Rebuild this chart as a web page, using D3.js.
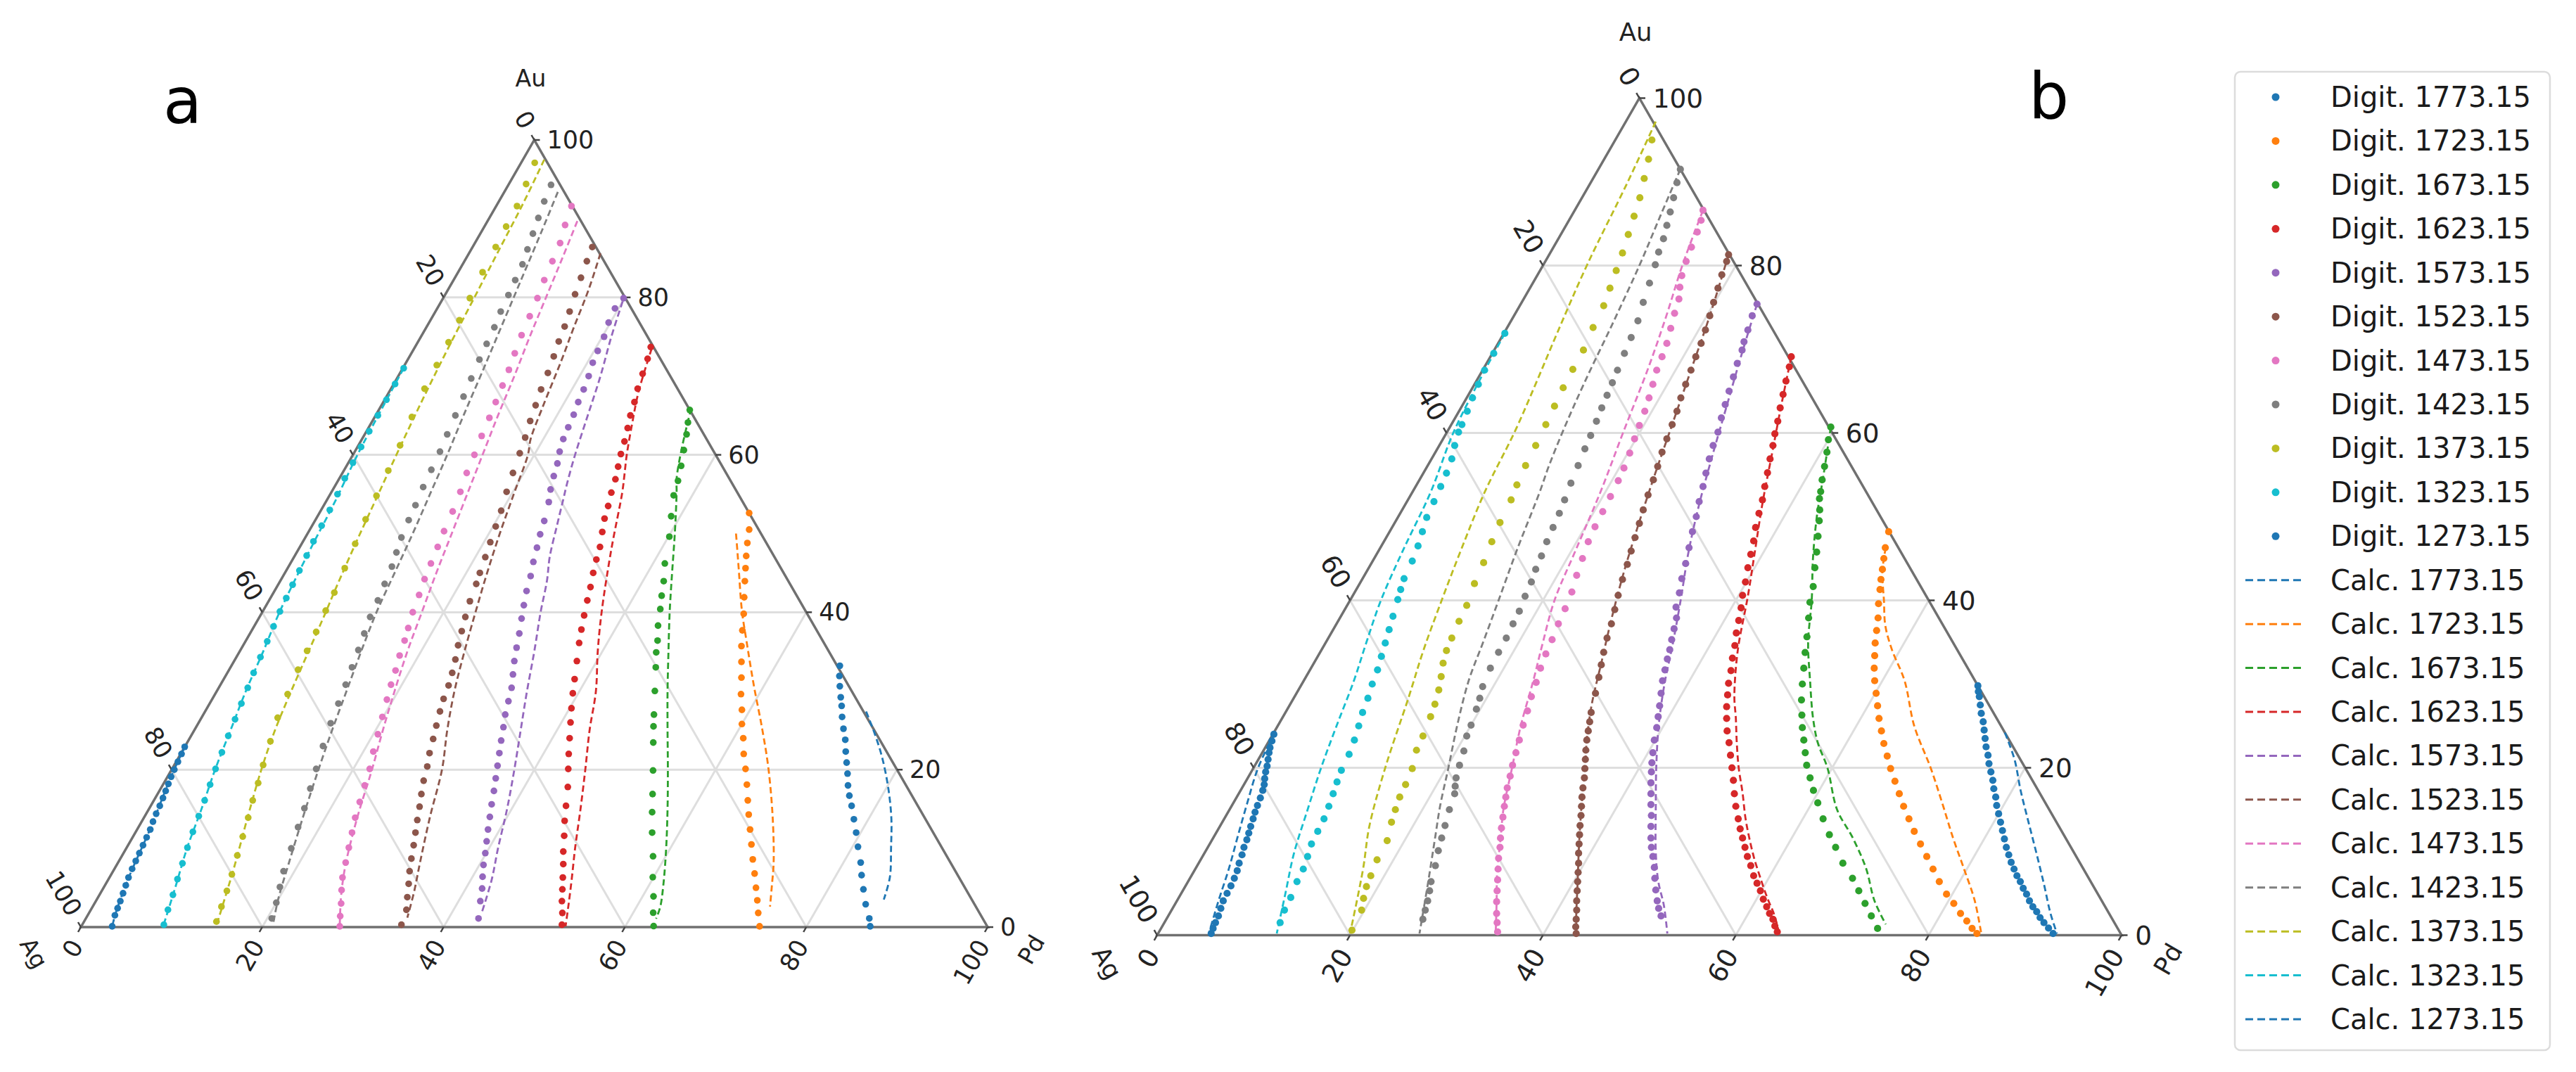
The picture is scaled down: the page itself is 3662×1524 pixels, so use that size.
<!DOCTYPE html>
<html>
<head>
<meta charset="utf-8">
<script src="https://cdn.jsdelivr.net/npm/d3@7"></script>
<style>
  body { margin: 0; background: #fff; }
  text { font-family: "DejaVu Sans", sans-serif; }
</style>
</head>
<body>
<svg id="chart" width="3662" height="1524"></svg>
<script>
// temperatures (K), legend order
const temps = ["1773.15", "1723.15", "1673.15", "1623.15", "1573.15", "1523.15",
               "1473.15", "1423.15", "1373.15", "1323.15", "1273.15"];
const colors = ["#1f77b4", "#ff7f0e", "#2ca02c", "#d62728", "#9467bd", "#8c564b",
                "#e377c2", "#7f7f7f", "#bcbd22", "#17becf", "#1f77b4"];
const ticks = [0, 20, 40, 60, 80, 100];
const gridVals = [20, 40, 60, 80];

// all points are [Pd, Au] in at.%  (Ag = 100 - Pd - Au)

// ---- panel a, digitised ----
const digitA1773 = [[67.1,33.2],[67.7,31.9],[68.4,30.6],[69.2,29.2],[69.85,28.1],[70.6,26.7],[71.5,25.2],[72.4,23.8],[73.2,22.3],[74.0,20.9],[74.8,19.5],[75.6,18.0],[76.4,16.7],[77.3,15.4],[78.4,13.7],[79.5,12.0],[80.6,10.2],[81.9,8.2],[82.8,6.6],[83.9,4.8],[85.1,2.9],[86.4,1.1],[87.0,0.1]];
const digitA1723 = [[47.4,52.6],[48.45,50.5],[49.1,48.8],[49.8,47.15],[50.5,45.6],[51.25,43.95],[52.2,41.9],[53.2,39.8],[54.1,37.7],[55.0,35.7],[56.0,33.7],[57.0,31.7],[58.0,29.6],[59.1,27.6],[60.0,25.8],[61.05,24.0],[62.1,22.0],[63.25,20.1],[64.4,18.1],[65.5,16.1],[66.5,14.3],[67.6,12.4],[68.7,10.5],[69.8,8.6],[70.9,6.8],[71.95,5.0],[72.9,3.4],[73.8,1.8],[74.8,0.1]];
const digitA1673 = [[34.3,65.7],[34.9,64.1],[35.5,62.6],[36.2,60.6],[36.9,58.6],[37.5,56.7],[37.95,54.85],[39.0,52.2],[40.1,49.6],[41.3,46.2],[42.3,43.95],[43.0,42.1],[43.7,40.4],[44.5,38.3],[45.4,36.4],[46.0,34.9],[46.9,33.0],[48.3,30.0],[49.7,27.0],[50.4,25.5],[51.4,23.45],[53.15,19.9],[54.6,16.9],[55.7,14.6],[57.0,12.0],[58.6,9.0],[59.9,6.34],[61.2,3.9],[62.2,1.83],[63.1,0.13]];
const digitA1623 = [[26.0,73.7],[26.4,72.2],[26.8,70.3],[27.2,68.4],[27.7,66.7],[28.1,65.0],[28.6,63.4],[29.1,61.7],[29.5,60.1],[30.0,58.5],[30.5,56.9],[30.9,55.2],[31.4,53.5],[31.8,51.9],[32.4,50.2],[33.1,48.3],[33.5,46.7],[34.0,45.0],[34.6,43.2],[35.1,41.5],[35.7,39.6],[36.3,37.8],[36.9,36.1],[37.8,33.8],[38.7,31.5],[39.4,29.7],[40.2,27.8],[41.0,26.0],[41.9,24.0],[42.8,22.0],[43.7,20.1],[44.8,17.8],[45.8,15.4],[46.6,13.5],[47.5,11.6],[48.4,9.6],[49.2,8.0],[50.0,6.3],[50.7,4.8],[51.4,3.3],[52.2,1.8],[52.9,0.3]];
const digitA1573 = [[19.9,79.9],[19.6,78.6],[19.8,76.8],[20.2,75.0],[20.4,73.2],[20.6,71.7],[21.0,70.0],[21.3,68.3],[21.5,66.7],[21.8,65.1],[22.0,63.5],[22.2,62.0],[22.6,60.4],[23.1,58.9],[23.5,57.3],[24.0,55.6],[24.6,54.0],[25.3,51.6],[25.7,49.9],[26.2,48.2],[26.7,46.4],[27.3,44.6],[27.8,42.7],[28.4,40.9],[29.0,39.2],[29.7,37.3],[30.3,35.5],[30.9,33.8],[31.6,32.1],[32.3,30.4],[32.8,28.7],[33.3,27.0],[33.9,25.4],[34.5,23.7],[35.1,22.1],[35.7,20.5],[36.3,18.9],[36.9,17.3],[37.5,15.6],[38.1,14.0],[38.7,12.4],[39.3,10.9],[39.9,9.4],[40.45,7.9],[41.1,6.4],[41.8,4.9],[42.4,3.3],[43.3,1.1]];
const digitA1523 = [[13.2,86.4],[13.5,84.6],[13.9,82.5],[14.3,80.4],[14.8,78.2],[15.2,76.3],[15.5,74.4],[15.9,72.5],[16.3,70.4],[16.6,68.3],[17.0,66.3],[17.4,64.3],[17.9,62.2],[18.3,60.2],[18.8,57.7],[19.3,55.3],[19.9,52.9],[20.3,50.9],[20.7,48.9],[21.1,47.0],[21.5,45.0],[21.8,43.6],[22.2,41.4],[22.7,39.4],[23.2,37.6],[23.7,35.8],[24.3,34.0],[24.8,32.3],[25.2,30.7],[25.5,29.0],[25.9,27.4],[26.4,25.6],[26.9,23.9],[27.4,22.1],[28.0,20.4],[28.5,18.6],[29.1,16.9],[29.7,15.3],[30.3,13.6],[30.9,12.0],[31.5,10.4],[32.1,8.7],[32.7,7.1],[33.4,5.5],[34.1,3.8],[34.8,2.2],[35.2,0.3]];
const digitA1473 = [[8.3,91.6],[8.8,89.2],[9.4,86.9],[9.7,84.6],[10.0,82.2],[10.4,79.9],[10.7,77.6],[11.0,75.2],[11.4,72.9],[11.8,70.8],[12.1,68.8],[12.4,66.7],[12.7,64.7],[13.0,62.4],[13.4,60.0],[13.7,57.7],[14.2,55.3],[14.6,52.8],[14.9,50.3],[15.2,48.3],[15.5,46.2],[15.8,44.2],[16.2,42.2],[16.6,40.0],[17.1,38.0],[17.5,36.4],[17.9,34.5],[18.4,32.6],[18.8,30.8],[19.3,28.9],[19.9,26.7],[20.5,24.5],[21.1,22.3],[21.8,20.1],[22.3,18.0],[22.8,15.9],[23.3,13.9],[23.9,12.0],[24.5,10.1],[25.1,8.2],[25.7,6.3],[26.4,4.7],[27.2,3.0],[27.9,1.4],[28.5,0.1]];
const digitA1423 = [[4.7,94.3],[5.0,92.2],[5.4,90.1],[5.8,88.1],[6.2,86.1],[6.6,84.2],[6.8,82.2],[7.0,80.3],[7.2,78.2],[7.5,76.2],[7.7,74.1],[7.9,72.1],[8.2,69.7],[8.5,67.4],[8.8,65.0],[9.1,62.6],[9.4,60.4],[9.6,58.1],[9.8,55.9],[10.1,53.6],[10.3,51.7],[10.6,49.5],[11.0,47.6],[11.4,45.8],[11.7,43.6],[12.0,41.5],[12.2,39.4],[12.6,37.3],[13.0,35.2],[13.4,33.0],[13.8,30.8],[14.2,28.4],[14.6,25.9],[15.2,23.0],[15.9,20.1],[16.5,17.6],[17.1,15.1],[17.6,12.7],[18.2,10.0],[18.8,7.1],[19.4,5.1],[20.0,3.1],[20.5,1.1]];
const digitA1373 = [[1.5,97.1],[1.9,94.4],[2.3,91.6],[2.4,89.0],[2.55,86.4],[2.7,83.2],[2.95,79.9],[3.2,77.1],[3.4,74.3],[3.55,71.4],[3.7,68.4],[4.1,64.8],[4.6,61.2],[4.9,58.0],[5.2,54.8],[5.5,51.8],[5.9,48.7],[6.3,45.6],[6.7,42.5],[6.9,40.2],[7.2,37.5],[7.4,35.1],[7.6,32.7],[8.0,29.6],[8.4,26.6],[9.1,23.6],[9.8,20.6],[10.4,18.3],[10.9,16.1],[11.5,13.9],[12.1,11.5],[12.7,9.1],[13.3,6.7],[13.8,4.6],[14.2,2.6],[14.6,0.7]];
const digitA1323 = [[0.1,71.0],[0.15,69.0],[0.2,67.0],[0.25,65.0],[0.3,63.0],[0.4,61.0],[0.5,59.0],[0.6,57.0],[0.8,55.0],[0.95,53.0],[1.05,51.0],[1.15,49.0],[1.3,47.2],[1.45,45.3],[1.6,43.5],[1.75,41.8],[1.9,40.1],[2.15,38.2],[2.4,36.3],[2.65,34.3],[2.9,32.3],[3.2,30.4],[3.5,28.4],[3.8,26.4],[4.1,24.3],[4.45,22.2],[4.8,20.1],[5.2,18.1],[5.6,16.1],[5.95,14.1],[6.3,12.1],[6.7,10.1],[7.15,8.1],[7.6,6.1],[8.1,4.1],[8.5,2.2],[9.0,0.3]];
const digitA1273 = [[0.0,22.9],[0.1,22.0],[0.2,21.0],[0.3,20.0],[0.4,19.1],[0.55,18.2],[0.7,17.3],[0.85,16.4],[1.0,15.4],[1.1,14.4],[1.25,13.4],[1.45,12.4],[1.55,11.4],[1.65,10.4],[1.75,9.4],[1.85,8.4],[1.95,7.4],[2.1,6.3],[2.3,5.3],[2.5,4.3],[2.7,3.3],[2.85,2.4],[3.0,1.5],[3.4,0.1]];

// ---- panel a, calculated ----
const calcA1773 = [[72.9,27.4],[75.4,24.4],[77.7,21.4],[80.25,17.6],[82.45,13.86],[84.3,10.1],[86.05,6.34],[86.8,3.5]];
const calcA1723 = [[47.25,50.0],[48.5,47.8],[49.8,45.5],[52.8,40.2],[55.2,36.4],[58.8,30.8],[62.6,25.1],[65.8,20.07],[69.4,13.8],[72.3,8.2],[73.6,5.2],[74.7,2.6]];
const calcA1673 = [[34.35,65.9],[35.8,61.0],[37.2,57.0],[38.1,55.2],[40.5,50],[42.7,45],[44.9,40.07],[47.3,35],[49.7,30],[52.2,25],[54.7,20.07],[57.2,15],[59.5,10.1],[61.5,5.5],[62.6,2.6],[62.9,1.07]];
const calcA1623 = [[26.2,73.5],[27.5,68],[28.8,64],[30.2,60],[31.2,57.5],[32.1,55.2],[34.5,48],[37.4,40.07],[39.5,35],[41.8,30],[43.6,25],[45.6,20.07],[47.6,15],[49.5,10],[51.0,6.3],[52.3,3],[53.4,0.1]];
const calcA1573 = [[20.0,79.5],[21.0,75],[22.3,70],[23.4,65],[24.5,60],[25.4,56.5],[26.1,54.1],[27.0,51],[28.2,47],[29.4,44],[30.7,40],[32.5,35],[34.2,30],[36.0,25],[37.8,20],[39.5,15],[41.0,10],[42.3,6],[43.3,1.8]];
const calcA1523 = [[14.5,85.6],[15.5,81],[16.3,76],[17.0,72],[17.9,66],[18.6,62],[19.3,60],[20.2,55.2],[21.2,50],[22.3,45],[23.5,40.07],[24.8,35],[26.2,30],[27.9,25],[29.8,20.07],[31.5,14],[33.3,8.2],[34.5,4.5],[35.4,1.2]];
const calcA1473 = [[9.9,89.7],[10.6,85],[11.3,80],[12.0,75],[12.8,70],[13.5,65],[14.3,60],[15.1,55],[15.9,50],[16.7,45],[17.6,40],[18.5,35],[19.6,30],[20.8,25],[22.1,20],[23.5,14],[25.2,8],[26.7,4],[28.4,0.3]];
const calcA1423 = [[5.9,93.4],[6.6,88.5],[7.4,82.5],[8.2,76.5],[9.0,70.5],[9.7,65],[10.4,60],[11.0,55],[11.6,50],[12.1,45],[12.6,40],[13.4,35],[14.3,30],[15.2,25],[16.2,20],[17.5,14],[18.9,8],[20.0,3.5],[21.0,0.4]];
const calcA1373 = [[2.35,97.5],[2.8,92],[3.1,86],[3.4,80],[3.7,74],[4.1,68],[4.7,61],[5.3,55],[5.9,49],[6.6,43],[7.0,40],[7.6,35],[8.2,30],[8.9,25],[9.9,20],[11.4,14],[13.0,8],[14.2,3],[14.8,0.4]];
const calcA1323 = [[0.1,71],[0.5,60],[1.0,54],[1.3,48],[1.9,40],[2.6,35],[3.2,30],[4.0,25],[4.8,20],[5.8,15],[6.7,10],[7.9,5],[9.0,0.2]];
const calcA1273 = [[0.0,23],[0.4,19],[1.4,12.5],[2.1,6.5],[2.9,2],[3.4,0.1]];

// ---- panel b, digitised ----
const digitB1773 = [[70.2,29.8],[70.6,29.1],[71.0,28.5],[71.6,27.5],[72.2,26.5],[72.9,25.5],[73.5,24.5],[74.1,23.5],[74.7,22.5],[75.4,21.5],[76.0,20.5],[76.7,19.5],[77.4,18.5],[78.0,17.5],[78.7,16.5],[79.3,15.5],[80.0,14.5],[80.7,13.5],[81.4,12.5],[82.1,11.5],[82.8,10.5],[83.5,9.6],[84.2,8.7],[84.9,7.9],[85.6,7.1],[86.3,6.4],[87.0,5.6],[87.7,4.9],[88.4,4.1],[89.1,3.4],[89.8,2.8],[90.5,2.1],[91.2,1.5],[92.0,0.85],[92.8,0.2]];
const digitB1723 = [[51.75,48.2],[52.35,46.3],[52.85,45.0],[53.35,43.7],[53.8,42.5],[54.3,41.3],[55.0,39.6],[55.8,37.9],[56.4,36.4],[57.0,34.9],[57.7,33.4],[58.4,31.9],[59.2,30.4],[60.1,28.9],[61.0,27.4],[61.9,25.9],[62.9,24.4],[63.9,22.9],[65.0,21.4],[66.1,19.9],[67.3,18.4],[68.5,16.9],[69.7,15.4],[71.0,13.9],[72.3,12.4],[73.7,10.9],[75.1,9.4],[76.5,7.9],[77.9,6.4],[79.4,4.9],[80.7,3.8],[82.0,2.6],[83.1,1.7],[84.1,0.8],[84.9,0.2]];
const digitB1673 = [[39.5,60.7],[40.0,59.2],[40.6,57.7],[41.2,56.0],[41.75,54.4],[42.3,53.0],[42.6,52.15],[43.3,50.8],[43.9,49.5],[44.7,47.65],[45.5,45.77],[46.25,43.9],[47.2,41.65],[47.8,39.77],[48.6,37.9],[49.55,35.65],[50.3,33.77],[51.1,31.9],[51.9,30.0],[52.76,28.1],[53.7,26.3],[54.5,24.8],[55.4,23.3],[56.3,21.8],[57.2,20.3],[58.3,18.8],[59.4,17.3],[60.6,15.8],[62.1,13.9],[63.7,12.0],[65.1,10.5],[66.8,8.6],[68.7,6.8],[70.1,5.3],[71.5,3.8],[72.9,2.3],[74.3,0.8]];
const digitB1623 = [[31.2,69.1],[31.6,67.9],[32.1,66.2],[32.6,64.6],[33.1,63.0],[33.65,61.4],[34.1,59.9],[34.6,58.5],[35.1,56.9],[35.66,55.25],[36.2,53.6],[36.76,52.0],[37.2,50.4],[37.7,48.7],[38.3,47.1],[38.8,45.5],[39.3,43.9],[39.9,42.2],[40.4,40.6],[41.0,39.1],[41.5,37.6],[42.0,36.1],[42.6,34.6],[43.1,33.1],[43.7,31.6],[44.2,30.1],[44.8,28.7],[45.4,27.3],[46.1,25.9],[46.9,24.4],[47.8,23.0],[48.7,21.5],[49.6,20.0],[50.5,18.5],[51.4,16.9],[52.3,15.4],[53.3,13.9],[54.1,12.7],[54.9,11.6],[55.7,10.5],[56.5,9.4],[57.4,8.3],[58.3,7.1],[59.1,6.2],[59.9,5.3],[60.7,4.3],[61.5,3.4],[62.2,2.6],[62.9,1.9],[63.5,1.1],[64.1,0.4]];
const digitB1573 = [[24.5,75.4],[24.7,74.0],[25.1,72.3],[25.4,70.9],[25.7,69.9],[26.0,68.3],[26.4,66.7],[26.8,65.0],[27.2,63.4],[27.6,61.8],[28.1,60.1],[28.4,58.5],[28.8,56.9],[29.3,55.2],[29.8,53.6],[30.3,51.8],[30.9,50.0],[31.4,48.2],[32.0,46.3],[32.6,44.4],[33.1,42.6],[33.7,40.9],[34.2,39.2],[34.9,37.9],[35.3,36.6],[35.7,35.3],[36.1,34.1],[36.4,33.0],[36.8,31.7],[37.2,30.4],[37.8,28.9],[38.4,27.4],[38.9,26.1],[39.4,24.8],[39.9,23.3],[40.5,21.8],[41.0,20.6],[41.5,19.5],[42.1,18.2],[42.75,16.9],[43.4,15.6],[44.1,14.3],[44.7,13.0],[45.4,11.6],[46.0,10.5],[46.7,9.4],[47.5,8.1],[48.2,6.8],[49.0,5.4],[49.8,4.1],[50.4,3.2],[51.1,2.3]];
const digitB1523 = [[18.6,81.3],[18.8,80.5],[19.1,78.9],[19.5,77.3],[19.9,75.6],[20.3,74.0],[20.7,72.3],[21.05,70.7],[21.3,69.1],[21.6,67.5],[21.9,65.8],[22.2,64.2],[22.6,62.6],[22.9,61.0],[23.2,59.3],[23.5,57.7],[23.9,56.0],[24.25,54.4],[24.6,52.6],[25.0,50.8],[25.4,49.2],[25.8,47.5],[26.2,45.9],[26.6,44.3],[27.0,42.5],[27.5,40.6],[28.0,38.9],[28.5,37.2],[28.9,35.5],[29.4,33.8],[29.9,32.3],[30.4,30.8],[31.0,28.9],[31.7,26.6],[32.1,25.5],[32.5,24.4],[32.9,23.3],[33.4,22.1],[33.9,21.0],[34.4,19.9],[34.9,18.8],[35.35,17.6],[35.8,16.5],[36.3,15.4],[36.8,14.3],[37.3,13.1],[37.8,12.0],[38.3,10.9],[38.8,9.8],[39.4,8.6],[39.9,7.5],[40.4,6.4],[40.9,5.3],[41.45,4.1],[42.0,3.0],[42.5,1.9],[42.9,1.0],[43.35,0.2]];
const digitB1473 = [[13.3,86.6],[13.7,85.4],[14.0,84.0],[14.3,82.2],[14.6,80.5],[15.0,78.8],[15.5,77.4],[16.1,76.0],[16.5,74.3],[17.0,72.5],[17.5,70.7],[17.8,69.1],[18.05,67.5],[18.5,65.8],[18.9,64.2],[19.26,62.6],[19.55,60.9],[19.85,59.3],[20.2,57.6],[20.5,55.8],[20.66,54.3],[20.8,52.4],[20.9,50.6],[21.0,48.8],[21.2,47.0],[21.6,45.0],[22.0,43.0],[22.5,41.0],[22.8,39.0],[23.0,37.2],[23.3,35.3],[23.5,33.6],[23.8,31.9],[24.2,30.2],[24.55,28.5],[25.0,26.8],[25.4,25.1],[25.9,23.3],[26.3,21.8],[26.7,20.3],[27.1,19.0],[27.5,17.6],[27.9,16.5],[28.3,15.4],[28.8,14.1],[29.3,12.8],[29.8,11.6],[30.3,10.5],[30.8,9.2],[31.4,7.9],[32.0,6.6],[32.6,5.3],[33.2,4.0],[33.9,2.6],[34.5,1.5],[35.1,0.4]];
const digitB1423 = [[8.5,91.5],[8.95,89.9],[9.5,88.1],[10.0,86.4],[10.45,84.8],[10.9,83.2],[11.2,81.6],[11.6,80.1],[12.1,77.9],[12.6,75.6],[13.15,73.4],[13.45,71.4],[13.7,69.5],[13.98,67.5],[14.2,66.0],[14.4,64.5],[14.6,63.0],[14.85,61.4],[15.1,59.7],[15.3,58.1],[15.6,56.1],[15.9,54.0],[16.25,52.0],[16.5,50.4],[16.7,48.7],[16.9,47.0],[17.2,45.3],[17.4,43.7],[17.7,42.2],[17.9,40.5],[18.2,38.7],[18.3,37.2],[18.45,35.5],[18.5,33.8],[18.6,31.9],[18.9,29.7],[19.3,28.3],[19.6,27.0],[20.0,25.1],[20.2,23.8],[20.8,22.0],[21.2,20.3],[21.6,18.8],[22.0,17.8],[22.4,16.9],[22.8,15.0],[23.3,13.1],[23.7,11.6],[24.1,10.1],[24.7,8.3],[25.2,6.4],[25.6,5.3],[26.0,4.1],[26.3,3.0],[26.6,1.9]];
const digitB1373 = [[3.8,95.0],[4.6,92.7],[5.3,90.4],[6.0,88.1],[6.5,85.9],[7.0,83.7],[7.5,81.5],[7.9,79.4],[8.3,77.3],[8.7,75.2],[8.9,72.6],[9.25,69.9],[9.3,67.6],[9.4,65.4],[9.6,63.2],[9.8,61.0],[10.0,58.5],[10.15,56.1],[10.4,53.8],[10.7,52.0],[10.9,49.3],[11.2,47.0],[11.6,44.5],[11.9,42.0],[12.4,39.4],[12.55,37.5],[12.8,35.5],[13.0,34.0],[13.4,32.5],[14.0,30.9],[14.55,29.3],[15.0,27.6],[15.3,26.1],[15.66,23.8],[15.84,22.1],[16.5,19.9],[16.76,18.0],[16.9,16.5],[17.2,15.0],[17.55,13.5],[18.2,11.3],[18.3,9.0],[18.6,7.1],[18.8,5.8],[19.2,4.4],[19.7,3.0],[19.9,0.6]];
const digitB1323 = [[0.1,71.9],[0.15,69.5],[0.2,67.5],[0.4,65.8],[0.6,64.2],[0.85,62.6],[1.1,61.0],[1.2,60.1],[1.6,58.5],[2.1,56.9],[2.4,55.2],[2.6,53.6],[2.8,51.8],[3.0,49.9],[3.4,48.2],[3.8,46.5],[4.1,44.7],[4.3,42.6],[4.6,41.3],[4.9,40.1],[5.4,38.1],[5.8,36.5],[6.2,34.9],[6.6,33.3],[7.0,31.7],[7.3,30.0],[7.7,28.3],[8.0,26.6],[8.4,25.0],[8.8,23.3],[9.1,21.6],[9.25,19.7],[9.5,18.3],[9.8,16.9],[10.1,15.4],[10.35,13.9],[10.45,12.4],[10.55,10.9],[10.9,9.4],[11.2,7.9],[11.3,6.4],[11.6,4.5],[11.7,3.0],[12.0,1.5]];
const digitB1273 = [[0.1,24.0],[0.3,23.2],[0.5,22.4],[0.7,21.8],[1.0,21.0],[1.3,20.2],[1.5,19.5],[1.8,18.7],[2.1,18.0],[2.3,17.3],[2.5,16.4],[2.65,15.5],[2.8,14.7],[3.0,13.9],[3.2,13.0],[3.4,12.2],[3.6,11.4],[3.75,10.5],[4.0,9.6],[4.2,8.6],[4.45,7.7],[4.6,6.8],[4.7,5.9],[4.75,5.0],[4.8,4.1],[5.0,3.2],[5.2,2.3],[5.3,1.5],[5.4,0.8],[5.5,0.2]];

// ---- panel b, calculated ----
const calcB1773 = [[75.8,24.2],[78.4,21.0],[80.9,17.27],[83.6,13.5],[86.3,9.76],[88.97,6.0],[91.3,2.64],[93.2,0.2]];
const calcB1723 = [[52.4,46.3],[53.45,43.5],[55.36,40.0],[57.0,37.0],[59.1,34.15],[62.3,30.4],[66.0,25.0],[70.2,20.0],[73.5,15.8],[76.7,11.64],[79.8,7.8],[82.7,4.14],[85.35,0.2]];
const calcB1673 = [[39.5,60.7],[41.6,55],[43.4,50],[45.5,45],[47.87,40],[50.0,35],[52.5,30.4],[55.0,26],[57.0,23],[59.5,20],[63.0,15],[66.3,11.64],[69.5,8],[72.3,4.14],[74.9,1.3]];
const calcB1623 = [[31.2,69.1],[33.0,63.5],[35.0,57.5],[37.0,51.5],[39.0,46],[41.0,40.5],[43.2,34],[45.6,28.5],[47.0,26],[48.6,23],[50.3,20],[52.2,17],[54.0,14],[55.6,11.6],[57.3,9.2],[59.0,7.0],[61.0,4.5],[62.8,2.4],[64.4,0.2]];
const calcB1573 = [[24.5,75.4],[26.0,69],[27.5,63],[29.0,57],[30.6,51],[32.3,45.5],[34.1,40.5],[36.0,35],[37.6,30],[39.5,25],[41.75,20],[44.2,15],[46.7,10],[48.7,6.5],[50.8,3.5],[52.8,0.2]];
const calcB1523 = [[18.6,81.3],[20.3,74],[21.6,67.5],[22.9,61],[24.2,54.5],[25.5,48.5],[26.8,43],[28.3,37.5],[29.8,32.5],[31.3,27.5],[32.9,23.3],[34.4,19.9],[36.3,15.4],[38.3,10.9],[40.4,6.4],[42.5,1.9],[43.4,0.2]];
const calcB1473 = [[13.3,86.6],[14.45,80],[15.8,74],[17.0,68],[18.3,60],[19.5,52.9],[20.4,46],[21.2,40],[22.5,35],[23.8,30.4],[25.2,25],[26.8,20],[28.4,15],[29.8,11.64],[31.5,7.5],[33.2,4],[35.0,0.2]];
const calcB1423 = [[8.5,91.5],[9.2,86],[10.0,80],[10.7,73],[11.3,66],[11.97,60.2],[12.6,56],[13.2,52.9],[14.3,46],[15.4,40],[16.3,35],[17.1,30.4],[18.6,25],[20.2,20],[21.6,15.5],[23.0,11.64],[25.05,6.0],[27.1,0.2]];
const calcB1373 = [[3.1,97.2],[3.8,90],[4.55,80],[5.5,72],[6.3,66],[7.0,60.2],[7.5,52.9],[8.5,46],[9.5,40],[10.6,34],[11.85,28.5],[13.65,20],[15.5,13],[17.4,7.9],[19.9,0.2]];
const calcB1323 = [[0.1,71.9],[0.3,66],[0.7,60],[1.9,52.9],[2.5,46],[3.2,40],[4.2,35],[5.2,30.4],[6.1,25],[7.0,20],[8.1,15],[9.3,9.76],[10.8,5],[12.3,0.2]];
const calcB1273 = [[0.1,24],[0.47,20],[1.45,15.77],[2.5,11.64],[3.5,7.8],[4.3,4.14],[5.26,0.2]];

const digitA = [digitA1773, digitA1723, digitA1673, digitA1623, digitA1573, digitA1523, digitA1473, digitA1423, digitA1373, digitA1323, digitA1273];
const calcA  = [calcA1773, calcA1723, calcA1673, calcA1623, calcA1573, calcA1523, calcA1473, calcA1423, calcA1373, calcA1323, calcA1273];
const digitB = [digitB1773, digitB1723, digitB1673, digitB1623, digitB1573, digitB1523, digitB1473, digitB1423, digitB1373, digitB1323, digitB1273];
const calcB  = [calcB1773, calcB1723, calcB1673, calcB1623, calcB1573, calcB1523, calcB1473, calcB1423, calcB1373, calcB1323, calcB1273];

const svg = d3.select("#chart");
svg.append("rect").attr("width", 3662).attr("height", 1524).attr("fill", "#fff");

function drawPanel(frame, digit, calc, tag, tagX, tagY) {
    let g = svg.append("g");
    // bottom axis fraction (Pd + Au/2) -> x, Au -> y
    let xs = d3.scaleLinear().domain([0, 100]).range([frame.x0, frame.x0 + frame.w]);
    let ys = d3.scaleLinear().domain([0, 100]).range([frame.y0, frame.y0 - frame.h]);
    let k = frame.w / 1289;
    let pt = (pd, au) => [xs(pd + au / 2), ys(au)];

    // grid lines
    let grid = [];
    gridVals.forEach(t => {
        grid.push([pt(0, t), pt(100 - t, t)]);      // const Au
        grid.push([pt(t, 0), pt(t, 100 - t)]);      // const Pd
        grid.push([pt(100 - t, 0), pt(0, 100 - t)]); // const Ag
    });
    g.selectAll(".grid").data(grid).enter().append("line")
        .attr("x1", d => d[0][0]).attr("y1", d => d[0][1])
        .attr("x2", d => d[1][0]).attr("y2", d => d[1][1])
        .attr("stroke", "#dedede").attr("stroke-width", 3);

    // triangle
    let tri = [pt(0, 0), pt(100, 0), pt(0, 100)];
    g.append("path")
        .attr("d", "M" + tri.map(p => p.join(",")).join("L") + "Z")
        .attr("fill", "none").attr("stroke", "#707070").attr("stroke-width", 3.5)
        .attr("stroke-linejoin", "miter");

    let fs = frame.fs;
    let tickG = g.append("g").attr("fill", "#222").attr("font-size", fs);

    // right axis: Au
    ticks.forEach(t => {
        let p = pt(100 - t, t);
        g.append("line").attr("x1", p[0]).attr("y1", p[1]).attr("x2", p[0] + 8 * k).attr("y2", p[1])
            .attr("stroke", "#444").attr("stroke-width", 2.5);
        tickG.append("text").attr("x", p[0] + 18 * k).attr("y", p[1])
            .attr("dominant-baseline", "central").text(t);
    });
    // bottom axis: Pd
    ticks.forEach(t => {
        let p = pt(t, 0);
        g.append("line").attr("x1", p[0]).attr("y1", p[1]).attr("x2", p[0] - 4 * k).attr("y2", p[1] + 7 * k)
            .attr("stroke", "#444").attr("stroke-width", 2.5);
        let lx = p[0] - 6 * k, ly = p[1] + 21 * k;
        tickG.append("text").attr("x", lx).attr("y", ly)
            .attr("text-anchor", "end").attr("dominant-baseline", "central")
            .attr("transform", `rotate(-60,${lx},${ly})`).text(t);
    });
    // left axis: Ag
    ticks.forEach(t => {
        let p = pt(0, 100 - t);
        g.append("line").attr("x1", p[0]).attr("y1", p[1]).attr("x2", p[0] - 4 * k).attr("y2", p[1] - 7 * k)
            .attr("stroke", "#444").attr("stroke-width", 2.5);
        let lx = p[0] - 8 * k, ly = p[1] - 19 * k;
        tickG.append("text").attr("x", lx).attr("y", ly)
            .attr("text-anchor", "end").attr("dominant-baseline", "central")
            .attr("transform", `rotate(60,${lx},${ly})`).text(t);
    });

    // corner labels
    let apex = pt(0, 100), bl = pt(0, 0), br = pt(100, 0);
    let cfs = fs * 0.95;
    g.append("text").attr("x", apex[0] - 5 * k).attr("y", apex[1] - 88 * k)
        .attr("text-anchor", "middle").attr("dominant-baseline", "central")
        .attr("font-size", cfs).attr("fill", "#222").text("Au");
    let agx = bl[0] - 67 * k, agy = bl[1] + 37 * k;
    g.append("text").attr("x", agx).attr("y", agy)
        .attr("text-anchor", "middle").attr("dominant-baseline", "central")
        .attr("transform", `rotate(60,${agx},${agy})`)
        .attr("font-size", cfs).attr("fill", "#222").text("Ag");
    let pdx = br[0] + 62 * k, pdy = br[1] + 32 * k;
    g.append("text").attr("x", pdx).attr("y", pdy)
        .attr("text-anchor", "middle").attr("dominant-baseline", "central")
        .attr("transform", `rotate(-60,${pdx},${pdy})`)
        .attr("font-size", cfs).attr("fill", "#222").text("Pd");

    digit.forEach((series, i) => {
        g.append("g").selectAll("circle").data(series).enter().append("circle")
            .attr("cx", d => pt(d[0], d[1])[0])
            .attr("cy", d => pt(d[0], d[1])[1])
            .attr("r", 4.8 * k)
            .attr("fill", colors[i]);
    });

    // calculated lines
    let line = d3.line()
        .x(d => pt(d[0], d[1])[0])
        .y(d => pt(d[0], d[1])[1])
        .curve(d3.curveCatmullRom.alpha(0.5));
    calc.forEach((series, i) => {
        g.append("path").datum(series)
            .attr("d", line)
            .attr("fill", "none")
            .attr("stroke", colors[i])
            .attr("stroke-width", 2.8)
            .attr("stroke-dasharray", "9,5");
    });

    // panel tag
    svg.append("text").attr("x", tagX).attr("y", tagY)
        .attr("font-family", "'Open Sans', sans-serif").attr("font-size", 90)
        .attr("fill", "#000").text(tag);
}

drawPanel({x0: 115, y0: 1318, w: 1289, h: 1119, fs: 35}, digitA, calcA, "a", 232, 175);
drawPanel({x0: 1645, y0: 1329.5, w: 1371, h: 1190, fs: 37.5}, digitB, calcB, "b", 2884, 168);

// legend
let lg = svg.append("g");
lg.append("rect").attr("x", 3177).attr("y", 102).attr("width", 448).attr("height", 1391)
    .attr("rx", 8).attr("fill", "#fff").attr("stroke", "#dcdcdc").attr("stroke-width", 2.5);
let rowY = d3.scaleLinear().domain([0, 21]).range([138, 1449]);
let legendItems = temps.map((t, i) => ({type: "dot", label: "Digit. " + t, color: colors[i]}))
    .concat(temps.map((t, i) => ({type: "line", label: "Calc. " + t, color: colors[i]})));
legendItems.forEach((item, i) => {
    let y = rowY(i);
    if (item.type === "dot") {
        lg.append("circle").attr("cx", 3235).attr("cy", y).attr("r", 5.5).attr("fill", item.color);
    } else {
        lg.append("line").attr("x1", 3192).attr("x2", 3277).attr("y1", y).attr("y2", y)
            .attr("stroke", item.color).attr("stroke-width", 3).attr("stroke-dasharray", "11,6");
    }
    lg.append("text").attr("x", 3313).attr("y", y)
        .attr("dominant-baseline", "central").attr("font-size", 40).attr("fill", "#1a1a1a")
        .text(item.label);
});
</script>
</body>
</html>
